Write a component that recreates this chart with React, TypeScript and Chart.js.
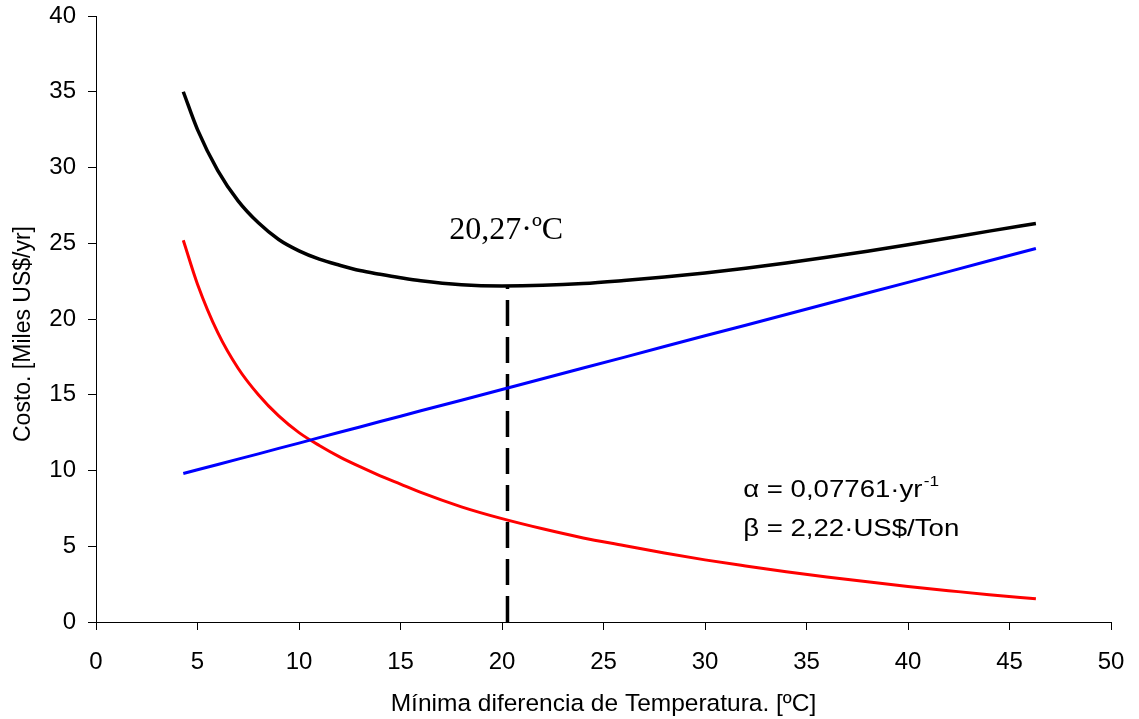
import { useEffect, useRef } from "react";
import { Chart, registerables } from "chart.js";

Chart.register(...registerables);

// Minimum temperature approach (ºC)
const deltaTmin = [4.3, 5, 6, 7, 8, 9, 10, 11, 12, 13, 14, 15, 16, 18, 20, 22, 24, 26, 28, 30, 32, 34, 36, 38, 40, 42, 44, 46.3];
// Annualised capital (exchanger area) cost, thousand US$/yr
const capitalCost = [25.2, 22.3, 19.1, 16.75, 15.0, 13.6, 12.5, 11.65, 10.9, 10.25, 9.65, 9.1, 8.55, 7.6, 6.82, 6.15, 5.55, 5.05, 4.55, 4.1, 3.7, 3.32, 2.97, 2.65, 2.35, 2.07, 1.8, 1.54];
// Utility (energy) cost, thousand US$/yr
const energyCost = [9.8, 10.05, 10.4, 10.75, 11.1, 11.46, 11.81, 12.17, 12.52, 12.87, 13.23, 13.58, 13.94, 14.64, 15.35, 16.06, 16.77, 17.47, 18.18, 18.89, 19.59, 20.3, 21.01, 21.72, 22.42, 23.13, 23.84, 24.65];
// Total annual cost, thousand US$/yr
const totalCost = [35.0, 32.5, 29.8, 27.8, 26.35, 25.25, 24.5, 23.95, 23.55, 23.2, 22.95, 22.72, 22.52, 22.26, 22.18, 22.22, 22.34, 22.54, 22.77, 23.04, 23.35, 23.7, 24.07, 24.47, 24.9, 25.35, 25.8, 26.3];

// Optimum
const optimumDT = 20.27;
const optimumCost = 22.18;
const optimumLabel = "20,27·ºC";

// Parameters note
const alphaText = "α = 0,07761·yr";
const alphaExponent = "-1";
const betaText = "β = 2,22·US$/Ton";

// Axes
const xTitle = "Mínima diferencia de Temperatura. [ºC]";
const yTitle = "Costo. [Miles US$/yr]";
const xRange = [0, 50];
const yRange = [0, 40];
const tickStep = 5;

const SANS = '"Liberation Sans", Arial, sans-serif';
const SERIF = '"Liberation Serif", "Times New Roman", serif';

const notesPlugin = {
  id: "costNotes",
  afterDraw(chart: any) {
    const { ctx, chartArea } = chart;
    const x = chart.scales.x;
    const y = chart.scales.y;
    ctx.save();
    ctx.fillStyle = "#000";
    ctx.textAlign = "left";
    ctx.textBaseline = "alphabetic";

    // optimum label above the minimum
    ctx.font = `32px ${SERIF}`;
    ctx.fillText(optimumLabel, x.getPixelForValue(17.4), y.getPixelForValue(25.28));

    // cost parameters (slightly widened lettering)
    const ax = x.getPixelForValue(31.88);
    const ay = y.getPixelForValue(8.25);
    const stretch = 1.15;
    ctx.save();
    ctx.translate(ax, ay);
    ctx.scale(stretch, 1);
    ctx.font = `24px ${SANS}`;
    ctx.fillText(alphaText, 0, 0);
    const w = ctx.measureText(alphaText).width;
    ctx.font = `15px ${SANS}`;
    ctx.fillText(alphaExponent, w + 1, -11);
    ctx.font = `24px ${SANS}`;
    ctx.fillText(betaText, 0, 39);
    ctx.restore();

    // vertical axis title
    ctx.translate(chartArea.left - 72, (chartArea.top + chartArea.bottom) / 2 + 15);
    ctx.rotate(-Math.PI / 2);
    ctx.textAlign = "center";
    ctx.textBaseline = "middle";
    ctx.font = `23px ${SANS}`;
    ctx.fillText(yTitle, 0, 0);
    ctx.restore();
  },
};

export default function App() {
  const canvasRef = useRef<HTMLCanvasElement | null>(null);

  useEffect(() => {
    const canvas = canvasRef.current;
    if (!canvas) return;

    const toPoints = (ys: number[]) => deltaTmin.map((t, i) => ({ x: t, y: ys[i] }));

    const chart = new Chart(canvas, {
      type: "line",
      data: {
        datasets: [
          {
            label: "Costo total",
            data: toPoints(totalCost),
            borderColor: "#000000",
            borderWidth: 3.5,
            pointRadius: 0,
            cubicInterpolationMode: "monotone",
          },
          {
            label: "Costo de energía",
            data: toPoints(energyCost),
            borderColor: "#0000FF",
            borderWidth: 3,
            pointRadius: 0,
            tension: 0,
          },
          {
            label: "Costo de capital",
            data: toPoints(capitalCost),
            borderColor: "#FF0000",
            borderWidth: 3,
            pointRadius: 0,
            cubicInterpolationMode: "monotone",
          },
          {
            label: "Óptimo",
            data: [
              { x: optimumDT, y: 0 },
              { x: optimumDT, y: optimumCost },
            ],
            borderColor: "#000000",
            borderWidth: 3.5,
            borderDash: [26, 11],
            pointRadius: 0,
            tension: 0,
          },
        ],
      },
      options: {
        animation: false,
        responsive: false,
        layout: { padding: { left: 0, top: 16, right: 28, bottom: 0 } },
        plugins: {
          legend: { display: false },
          tooltip: { enabled: false },
        },
        scales: {
          x: {
            type: "linear",
            min: xRange[0],
            max: xRange[1],
            ticks: {
              stepSize: tickStep,
              color: "#000",
              font: { family: SANS, size: 24 },
              padding: 18,
              maxRotation: 0,
            },
            grid: {
              display: true,
              drawOnChartArea: false,
              drawTicks: true,
              tickLength: 8,
              color: "#000",
              lineWidth: 1,
            },
            border: { display: true, color: "#000", width: 1 },
            title: {
              display: true,
              text: xTitle,
              color: "#000",
              font: { family: SANS, size: 24.5 },
              padding: { top: 0, bottom: 0 },
            },
            afterFit(scale: any) {
              scale.height = 97;
              scale.paddingLeft = 0;
              scale.paddingRight = 0;
            },
          },
          y: {
            type: "linear",
            min: yRange[0],
            max: yRange[1],
            ticks: {
              stepSize: tickStep,
              color: "#000",
              font: { family: SANS, size: 24 },
              padding: 12,
            },
            grid: {
              display: true,
              drawOnChartArea: false,
              drawTicks: true,
              tickLength: 8,
              color: "#000",
              lineWidth: 1,
            },
            border: { display: true, color: "#000", width: 1 },
            afterFit(scale: any) {
              scale.width = 96;
              scale.paddingTop = 0;
              scale.paddingBottom = 0;
            },
          },
        },
      },
      plugins: [notesPlugin],
    } as any);

    return () => chart.destroy();
  }, []);

  return (
    <div style={{ position: "absolute", left: 0, top: 0, width: 1139, height: 719, background: "#fff" }}>
      <canvas ref={canvasRef} width={1139} height={719} style={{ display: "block" }} />
    </div>
  );
}
